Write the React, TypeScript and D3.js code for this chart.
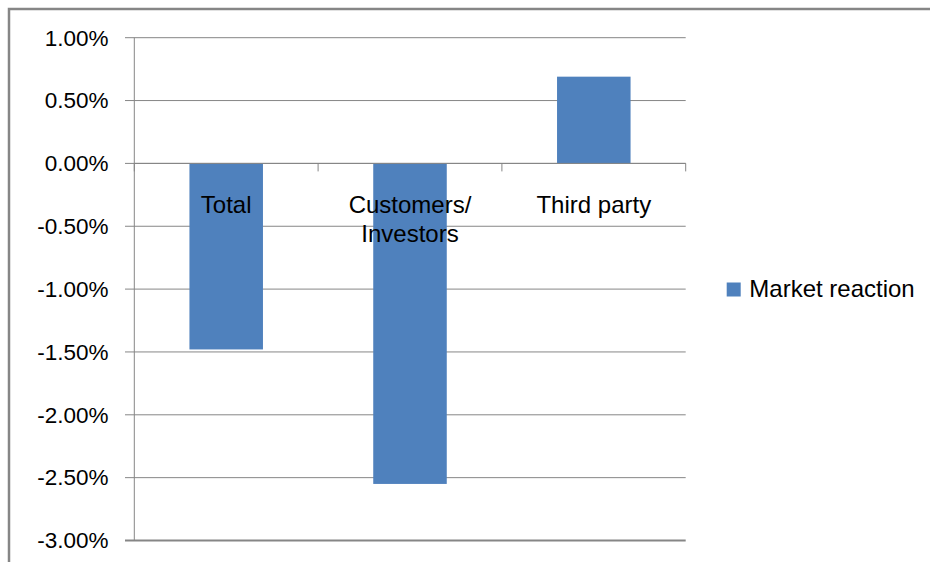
import React from "react";
import * as d3 from "d3";

const categories = ["Total", "Customers/ Investors", "Third party"];
const categoryLines = [["Total"], ["Customers/", "Investors"], ["Third party"]];
const values = [-0.0148, -0.0255, 0.0069];
const yTicks = [0.01, 0.005, 0, -0.005, -0.01, -0.015, -0.02, -0.025, -0.03];
const seriesName = "Market reaction";

const W = 930;
const H = 562;
const FONT = "'Liberation Sans', Arial, sans-serif";

export default function App() {
  const left = 134.3;
  const right = 685.7;
  const top = 37.7;
  const bottom = 540.5;

  const y = d3.scaleLinear().domain([-0.03, 0.01]).range([bottom, top]);
  const x = d3
    .scaleBand<string>()
    .domain(categories)
    .range([left, right])
    .paddingInner(0.6)
    .paddingOuter(0.3);
  const step = x.step();
  const y0 = y(0);
  const fmt = (v: number) => (v * 100).toFixed(2) + "%";
  const grid = "#868686";

  return (
    <svg
      width={W}
      height={H}
      style={{ position: "absolute", left: 0, top: 0, background: "#fff" }}
    >
      <rect x={0} y={0} width={W} height={H} fill="#fff" />
      <rect x={9} y={9} width={1000} height={700} fill="none" stroke={grid} strokeWidth={2.5} />
      {yTicks.map((t) => (
        <g key={t}>
          <line
            x1={125}
            x2={right}
            y1={y(t)}
            y2={y(t)}
            stroke={grid}
            strokeWidth={t === -0.03 ? 2 : 1}
          />
          <text
            x={108.5}
            y={y(t) + 7.8}
            textAnchor="end"
            fontFamily={FONT}
            fontSize={22.5}
            fill="#000"
          >
            {fmt(t)}
          </text>
        </g>
      ))}
      <line x1={left} x2={left} y1={top} y2={bottom} stroke={grid} strokeWidth={1} />
      {categories.map((c, i) => (
        <rect
          key={c}
          x={x(c)}
          width={x.bandwidth()}
          y={Math.min(y(values[i]), y0)}
          height={Math.abs(y(values[i]) - y0)}
          fill="#4F81BD"
        />
      ))}
      <line x1={left} x2={right} y1={y0} y2={y0} stroke={grid} strokeWidth={1} />
      {d3.range(categories.length + 1).map((i) => (
        <line
          key={i}
          x1={left + i * step}
          x2={left + i * step}
          y1={y0}
          y2={y0 + 8}
          stroke={grid}
          strokeWidth={1}
        />
      ))}
      {categories.map((c, i) => (
        <text
          key={c}
          x={(x(c) as number) + x.bandwidth() / 2}
          y={213}
          textAnchor="middle"
          fontFamily={FONT}
          fontSize={24}
          fill="#000"
        >
          {categoryLines[i].map((l, j) => (
            <tspan key={j} x={(x(c) as number) + x.bandwidth() / 2} dy={j === 0 ? 0 : 29}>
              {l}
            </tspan>
          ))}
        </text>
      ))}
      <rect x={726.7} y={282.5} width={14} height={14} fill="#4F81BD" />
      <text x={749.3} y={297} fontFamily={FONT} fontSize={24} fill="#000">
        {seriesName}
      </text>
    </svg>
  );
}
